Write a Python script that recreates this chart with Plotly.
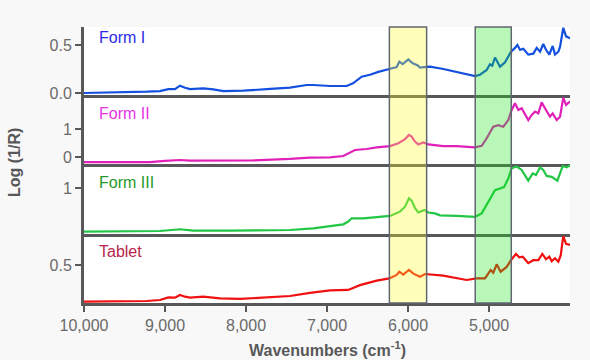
import plotly.graph_objects as go
from plotly.subplots import make_subplots

series_names = ["Form I", "Form II", "Form III", "Tablet"]

form1_wn = [10000, 9638, 9226, 9062, 8959, 8877, 8815, 8753, 8691, 8527, 8403, 8280, 8033, 7745, 7457, 7251, 7169,
            6963, 6757, 6679, 6572, 6469, 6366, 6231, 6140, 6107, 6066, 5996, 5942, 5885, 5852, 5802, 5728, 5564,
            5399, 5173, 5111, 5029, 4988, 4959, 4926, 4897, 4864, 4802, 4728, 4679, 4650, 4617, 4576, 4515, 4453,
            4411, 4370, 4330, 4296, 4255, 4214, 4185, 4144, 4123, 4083, 4049, 4000]
form1_val = [0.0, 0.003, 0.014, 0.02, 0.04, 0.04, 0.076, 0.055, 0.04, 0.048, 0.038, 0.02, 0.024, 0.04, 0.055, 0.083,
             0.083, 0.073, 0.073, 0.10, 0.17, 0.19, 0.22, 0.25, 0.27, 0.326, 0.30, 0.35, 0.31, 0.29, 0.264, 0.27,
             0.274, 0.25, 0.22, 0.177, 0.19, 0.24, 0.30, 0.285, 0.37, 0.32, 0.274, 0.32, 0.43, 0.47, 0.50, 0.45,
             0.46, 0.40, 0.41, 0.47, 0.43, 0.51, 0.45, 0.40, 0.49, 0.40, 0.43, 0.48, 0.68, 0.59, 0.57]

form2_wn = [10000, 9185, 9000, 8815, 8691, 8321, 7951, 7457, 7210, 6963, 6799, 6654, 6510, 6387, 6222, 6119, 6037,
            5988, 5955, 5914, 5873, 5811, 5749, 5564, 5399, 5173, 5090, 5029, 4947, 4885, 4823, 4762, 4720, 4679,
            4638, 4597, 4515, 4473, 4432, 4391, 4350, 4296, 4247, 4214, 4164, 4123, 4083, 4049, 4000]
form2_val = [-0.18, -0.18, -0.14, -0.107, -0.13, -0.14, -0.125, -0.07, -0.025, -0.01, 0.036, 0.25, 0.286, 0.345,
             0.39, 0.49, 0.64, 0.79, 0.73, 0.55, 0.45, 0.52, 0.45, 0.39, 0.39, 0.345, 0.40, 0.67, 1.08, 1.14, 1.08,
             1.32, 1.68, 1.92, 1.68, 1.74, 1.32, 1.5, 1.62, 1.56, 1.95, 1.68, 1.44, 1.56, 1.32, 1.44, 2.12, 1.86,
             1.98]

form3_wn = [10000, 9062, 8815, 8650, 8198, 7457, 7169, 6963, 6799, 6738, 6695, 6552, 6387, 6222, 6099, 6037, 5988,
            5955, 5914, 5873, 5799, 5749, 5667, 5605, 5399, 5173, 5090, 5008, 4926, 4864, 4815, 4762, 4720, 4658,
            4597, 4515, 4461, 4420, 4370, 4330, 4288, 4226, 4156, 4123, 4090, 4041, 4000]
form3_val = [-0.015, 0.0, 0.04, 0.008, 0.008, 0.023, 0.06, 0.116, 0.155, 0.22, 0.295, 0.295, 0.32, 0.35, 0.45,
             0.565, 0.76, 0.705, 0.53, 0.43, 0.49, 0.43, 0.41, 0.365, 0.35, 0.33, 0.41, 0.68, 0.95, 0.99, 1.02,
             1.22, 1.46, 1.50, 1.42, 1.17, 1.34, 1.30, 1.48, 1.42, 1.28, 1.26, 1.17, 1.34, 1.51, 1.48, 1.53]

tablet_wn = [10000, 9226, 9062, 8959, 8877, 8815, 8753, 8691, 8527, 8321, 8074, 7745, 7457, 7210, 6963, 6738, 6593,
             6387, 6231, 6140, 6107, 6058, 5988, 5934, 5852, 5790, 5564, 5276, 5152, 5049, 4979, 4947, 4905, 4856,
             4782, 4720, 4667, 4626, 4584, 4515, 4453, 4391, 4342, 4296, 4255, 4226, 4185, 4144, 4115, 4083, 4049,
             4000]
tablet_val = [0.118, 0.125, 0.135, 0.163, 0.16, 0.1875, 0.17, 0.16, 0.17, 0.153, 0.146, 0.163, 0.177, 0.21, 0.235,
              0.24, 0.29, 0.337, 0.36, 0.396, 0.43, 0.40, 0.448, 0.41, 0.378, 0.406, 0.39, 0.344, 0.36, 0.36, 0.448,
              0.42, 0.507, 0.43, 0.48, 0.56, 0.615, 0.58, 0.586, 0.52, 0.55, 0.55, 0.615, 0.56, 0.586, 0.54, 0.57,
              0.534, 0.60, 0.80, 0.72, 0.71]

x_tick_vals = [10000, 9000, 8000, 7000, 6000, 5000]
y_tick_vals = [[0.0, 0.5], [0, 1], [1], [0.5]]
y_tick_text = [["0.0", "0.5"], ["0", "1"], ["1"], ["0.5"]]
y_ranges = [[-0.021, 0.6875], [-0.25, 2.214], [-0.07, 1.558], [0.104, 0.823]]
band_ranges = [(6230, 5770), (5170, 4725)]

line_colors = ["#1450e0", "#e020b8", "#22c645", "#f01010"]
label_colors = ["#2a2ae6", "#e733e7", "#1f9a2a", "#b8254a"]
band_fills = ["rgba(255,255,40,0.32)", "rgba(20,230,20,0.30)"]

wn_list = [form1_wn, form2_wn, form3_wn, tablet_wn]
val_list = [form1_val, form2_val, form3_val, tablet_val]

FONT = "Arial, 'Liberation Sans', sans-serif"
AXIS = "#58585a"

fig = make_subplots(rows=4, cols=1, shared_xaxes=True, vertical_spacing=0)

for i in range(4):
    fig.add_trace(go.Scatter(x=wn_list[i], y=val_list[i], mode="lines", name=series_names[i],
                             line=dict(color=line_colors[i], width=2.2), showlegend=False,
                             hoverinfo="skip"), row=i + 1, col=1)

# panel domains (top -> bottom)
domains = [[0.7536, 1.0], [0.5036, 0.7536], [0.25, 0.5036], [0.0, 0.25]]

for i in range(4):
    ax = "yaxis" if i == 0 else f"yaxis{i+1}"
    fig.layout[ax].update(domain=domains[i], range=y_ranges[i], tickvals=y_tick_vals[i], ticktext=y_tick_text[i],
                          showline=True, linecolor=AXIS, linewidth=3, ticks="outside", ticklen=6, tickwidth=2,
                          tickcolor=AXIS, showgrid=False, zeroline=False, fixedrange=True,
                          tickfont=dict(family=FONT, size=16, color="#6a6a6a"))
    xa = "xaxis" if i == 0 else f"xaxis{i+1}"
    fig.layout[xa].update(range=[10000, 4000], showline=True, linecolor=AXIS, linewidth=3, showgrid=False,
                          zeroline=False, tickvals=x_tick_vals)
    if i < 3:
        fig.layout[xa].update(ticks="", showticklabels=False)
    else:
        fig.layout[xa].update(ticks="outside", ticklen=6, tickwidth=2, tickcolor=AXIS, tickformat=",d",
                              tickfont=dict(family=FONT, size=16, color="#6a6a6a"))

for (a, b), fc in zip(band_ranges, band_fills):
    fig.add_shape(type="rect", xref="x4", yref="paper", x0=a, x1=b, y0=0, y1=1,
                  fillcolor=fc, line=dict(color="#5f6670", width=1.5), layer="above")

# panel labels
label_y = [0.962, 0.685, 0.435, 0.185]
for i in range(4):
    fig.add_annotation(text=series_names[i], xref="paper", yref="paper", x=0.026, y=label_y[i],
                       xanchor="left", yanchor="middle", showarrow=False,
                       font=dict(family=FONT, size=16, color=label_colors[i]))

fig.add_annotation(text="<b>Log (1/R)</b>", xref="paper", yref="paper", x=-0.142, y=0.511, textangle=-90,
                   xanchor="center", yanchor="middle", showarrow=False,
                   font=dict(family=FONT, size=16, color=AXIS))
fig.add_annotation(text="<b>Wavenumbers (cm<sup>-1</sup>)</b>", xref="paper", yref="paper", x=0.5, y=-0.167,
                   xanchor="center", yanchor="middle", showarrow=False,
                   font=dict(family=FONT, size=16, color=AXIS))

fig.update_layout(width=590, height=360, margin=dict(l=84, r=20, t=27, b=57),
                  paper_bgcolor="#f8f8f8", plot_bgcolor="#ffffff", showlegend=False)

fig.write_html("out.html", config={"displayModeBar": False},
               post_script="document.body.style.margin='0';document.body.style.background='#f8f8f8';")
